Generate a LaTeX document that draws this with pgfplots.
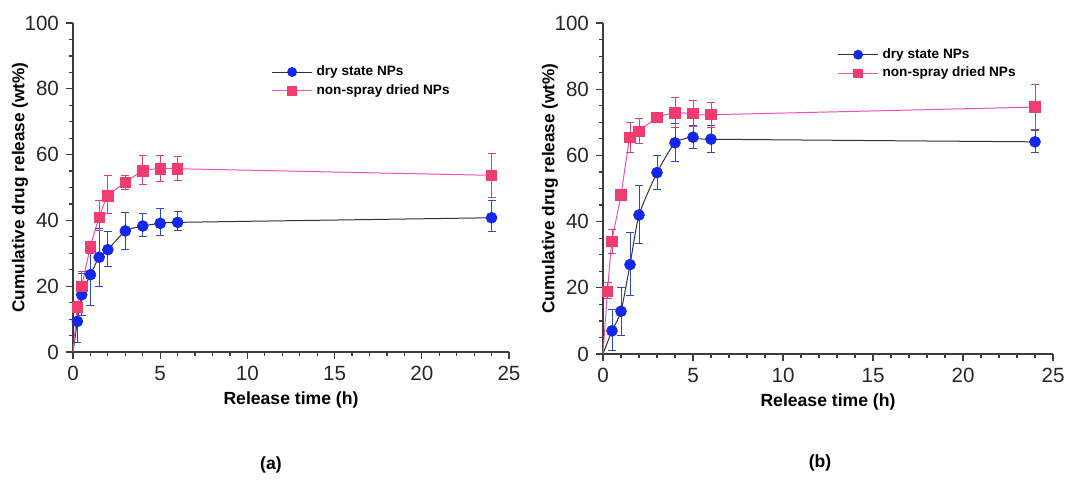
\documentclass[border=0pt]{standalone}
\usepackage{pgfplots}
\pgfplotsset{compat=1.18}
\usepackage{pgfplotstable}
\usepackage{fontspec}
\setmainfont{Liberation Sans}
\definecolor{dryblue}{RGB}{20,40,235}
\definecolor{dryerr}{RGB}{45,75,190}
\definecolor{pinkline}{RGB}{235,80,190}
\definecolor{pinkmark}{RGB}{240,60,110}
\definecolor{pinkerr}{RGB}{205,65,135}
\definecolor{axgray}{RGB}{60,60,60}

\pgfplotstableread{
x y ep em
0 0 0 0
0.25 9.3 5.7 6.3
0.5 17.4 6.6 6.4
1 23.5 8.5 9.5
1.5 28.8 8.7 8.8
2 31.1 5.4 5.1
3 36.8 5.7 5.5
4 38.3 3.7 3.3
5 39.1 4.4 3.6
6 39.4 3.4 2.4
24 40.8 5.2 4.3
}\dryA
\pgfplotstableread{
x y ep em
0 0 0 0
0.25 13.5 2 3.5
0.5 20 4.5 3
1 32 1.5 2
1.5 41 5 4
2 47.4 6.1 5.4
3 51.5 2 2
4 55.1 4.5 4.3
5 55.7 3.9 3.9
6 55.7 3.6 3.5
24 53.7 6.7 6.7
}\pinkA
\pgfplotstableread{
x y ep em
0 0 0 0
0.5 7 6.3 6
1 12.9 7.3 7.2
1.5 27 9.6 9.3
2 42 8.8 8.5
3 54.8 5.2 5.1
4 63.8 5.7 5.6
5 65.5 3.5 3.3
6 64.9 4.1 3.9
24 64.1 3.5 3.3
}\dryB
\pgfplotstableread{
x y ep em
0 0 0 0
0.25 19 2.5 2.2
0.5 34.1 3.6 3.6
1 48.1 1.2 1.1
1.5 65.5 4.5 4.5
2 67.3 3.7 3.8
3 71.4 1.1 0.9
4 72.9 4.5 4.4
5 72.6 3.9 3.8
6 72.3 3.7 3.8
24 74.6 6.8 6.8
}\pinkB

\pgfplotsset{
  relplot/.style={
    scale only axis,
    axis lines*=left,
    axis line style={axgray, line width=0.6pt},
    xmin=0, xmax=25, ymin=0, ymax=100,
    xtick={0,5,10,15,20,25},
    minor x tick num=4,
    ytick={0,20,40,60,80,100},
    minor y tick num=3,
    tick align=outside,
    major tick length=3.5pt,
    minor tick length=2pt,
    tick style={axgray, line width=0.6pt},
    ticklabel style={font=\fontsize{10.3}{12}\selectfont, text=black!85},
    /pgf/number format/assume math mode=true,
    xlabel={Release time (h)},
    ylabel={Cumulative drug release (wt\%)},
    every axis x label/.style={at={(axis description cs:0.5,0)}, yshift=-24pt, anchor=center,
      font=\bfseries\fontsize{8.8}{10}\selectfont},
    every axis y label/.style={at={(axis description cs:0,0.5)}, xshift=-26.5pt, rotate=90, anchor=center,
      font=\bfseries\fontsize{8.6}{10}\selectfont},
    clip=false,
    legend style={draw=none, fill=none, font=\bfseries\fontsize{6.8}{8}\selectfont,
      anchor=north west, row sep=-1pt, inner sep=1pt},
    legend cell align=left,
    legend image code/.code={\draw[mark repeat=2,mark phase=2,##1] plot coordinates {(0pt,0pt) (10pt,0pt) (20pt,0pt)};},
  },
  dryline/.style={black!80, line width=0.5pt, smooth, tension=0.35, no marks},
  pinkl/.style={pinkline, line width=0.5pt, smooth, tension=0.35, no marks},
  drymarks/.style={only marks, mark=*, mark size=2.7pt,
    mark options={fill=dryblue, draw=dryblue},
    /pgfplots/error bars/y dir=both, /pgfplots/error bars/y explicit,
    /pgfplots/error bars/error bar style={dryerr, line width=0.5pt},
    /pgfplots/error bars/error mark options={rotate=90, mark size=2pt, dryerr, line width=0.5pt}},
  pinkmarks/.style={only marks, mark=square*, mark size=2.6pt,
    mark options={fill=pinkmark, draw=pinkmark},
    /pgfplots/error bars/y dir=both, /pgfplots/error bars/y explicit,
    /pgfplots/error bars/error bar style={pinkerr, line width=0.5pt},
    /pgfplots/error bars/error mark options={rotate=90, mark size=2pt, pinkerr, line width=0.5pt}},
}

\begin{document}
\begin{tikzpicture}
\path (0,0) rectangle (541.5pt,237pt);
% Panel (a)
\begin{axis}[relplot, at={(36.5pt,61pt)}, anchor=south west,
  width=218pt, height=164.5pt,
  legend style={at={(0.45,0.89)}}]
\addlegendimage{black!80, line width=0.5pt, mark=*, mark size=2.2pt, mark options={fill=dryblue, draw=dryblue}}
\addlegendentry{dry state NPs}
\addlegendimage{pinkline, line width=0.5pt, mark=square*, mark size=2.1pt, mark options={fill=pinkmark, draw=pinkmark}}
\addlegendentry{non-spray dried NPs}
\addplot[dryline, forget plot] table[x=x, y=y] {\dryA};
\addplot[pinkl, forget plot] table[x=x, y=y] {\pinkA};
\addplot[drymarks, forget plot] table[x=x, y=y, y error plus=ep, y error minus=em, skip coords between index={0}{1}] {\dryA};
\addplot[pinkmarks, forget plot] table[x=x, y=y, y error plus=ep, y error minus=em, skip coords between index={0}{1}] {\pinkA};
\end{axis}
% Panel (b)
\begin{axis}[relplot, at={(301.5pt,60pt)}, anchor=south west,
  width=225pt, height=165.5pt,
  legend style={at={(0.516,0.943)}}]
\addlegendimage{black!80, line width=0.5pt, mark=*, mark size=2.2pt, mark options={fill=dryblue, draw=dryblue}}
\addlegendentry{dry state NPs}
\addlegendimage{pinkline, line width=0.5pt, mark=square*, mark size=2.1pt, mark options={fill=pinkmark, draw=pinkmark}}
\addlegendentry{non-spray dried NPs}
\addplot[dryline, forget plot] table[x=x, y=y] {\dryB};
\addplot[pinkl, forget plot] table[x=x, y=y] {\pinkB};
\addplot[drymarks, forget plot] table[x=x, y=y, y error plus=ep, y error minus=em, skip coords between index={0}{1}] {\dryB};
\addplot[pinkmarks, forget plot] table[x=x, y=y, y error plus=ep, y error minus=em, skip coords between index={0}{1}] {\pinkB};
\end{axis}
\node[font=\bfseries\fontsize{8.8}{10}\selectfont] at (135.5pt,4.5pt) {(a)};
\node[font=\bfseries\fontsize{8.8}{10}\selectfont] at (410pt,5.5pt) {(b)};
\end{tikzpicture}
\end{document}
